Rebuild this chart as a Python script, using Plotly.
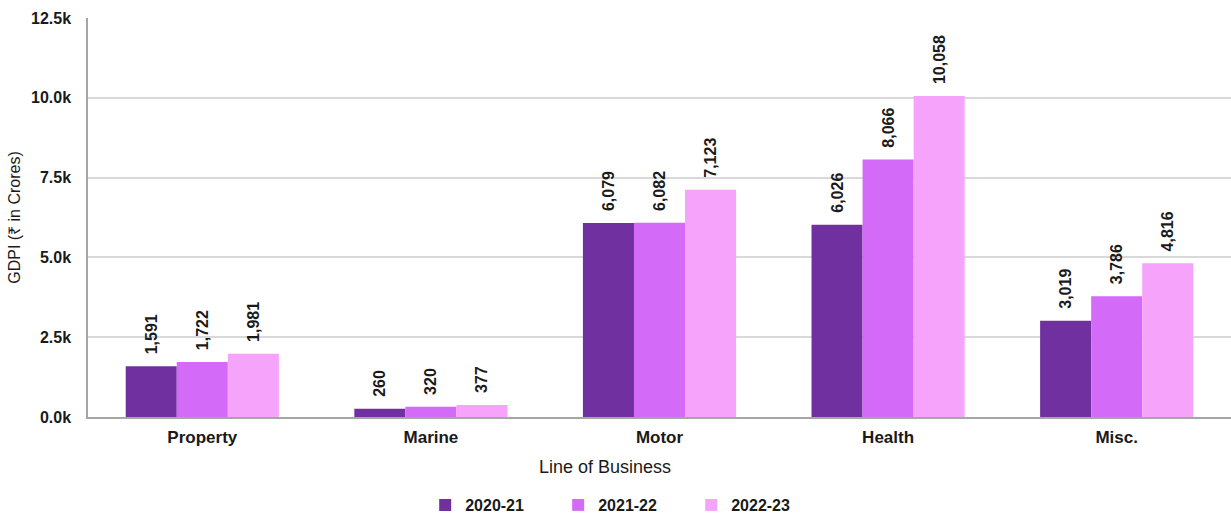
import plotly.graph_objects as go

categories = ["Property", "Marine", "Motor", "Health", "Misc."]
years = ["2020-21", "2021-22", "2022-23"]
v2021 = [1591, 260, 6079, 6026, 3019]
v2122 = [1722, 320, 6082, 8066, 3786]
v2223 = [1981, 377, 7123, 10058, 4816]
series = [v2021, v2122, v2223]
colors = ["#7030A0", "#D46AF8", "#F5A3FB"]
tick_vals = [0, 2500, 5000, 7500, 10000, 12500]
tick_text = ["0.0k", "2.5k", "5.0k", "7.5k", "10.0k", "12.5k"]

FONT = "Liberation Sans, Arial, sans-serif"
INK = "#1a1a1a"

fig = go.Figure()
for name, vals, col in zip(years, series, colors):
    fig.add_trace(go.Bar(
        x=categories, y=vals, name=name,
        marker=dict(color=col, line=dict(width=0)),
        text=["\u00a0\u00a0" + f"{v:,}" for v in vals],
        textposition="outside", textangle=-90, constraintext="none",
        textfont=dict(family=FONT, size=16, color=INK, weight="bold"),
        cliponaxis=False,
    ))

fig.update_layout(
    width=1231, height=517,
    margin=dict(l=88, r=0, t=18, b=100, autoexpand=False),
    paper_bgcolor="white", plot_bgcolor="white",
    barmode="group", bargap=0.33, bargroupgap=0,
    font=dict(family=FONT, color=INK),
    showlegend=True,
    legend=dict(orientation="h", x=0.295, xanchor="left",
                yref="container", y=12 / 517, yanchor="middle",
                font=dict(family=FONT, size=16, color=INK, weight="bold"),
                entrywidth=88, itemwidth=30),
)
fig.update_xaxes(
    showline=True, linecolor="#a6a6a6", linewidth=1.5,
    tickfont=dict(family=FONT, size=17, color=INK, weight="bold"),
    ticks="", showgrid=False, ticklabelstandoff=4,
)
fig.update_yaxes(
    range=[0, 12500], tickvals=tick_vals, ticktext=tick_text,
    showline=True, linecolor="#a6a6a6", linewidth=1.5,
    gridcolor="#d9d9d9", gridwidth=1.5,
    tickfont=dict(family=FONT, size=16, color=INK, weight="bold"),
    ticks="", ticklabelstandoff=12,
    zeroline=False,
    title=dict(text="GDPI (₹ in Crores)", font=dict(family=FONT, size=16, color=INK), standoff=6),
)
fig.add_annotation(
    text="Line of Business", xref="paper", yref="paper",
    x=(605 - 88) / 1143, y=(417 - 467) / 399, xanchor="center", yanchor="middle",
    showarrow=False, font=dict(family=FONT, size=18, color=INK),
)

fig.write_html("out.html")
